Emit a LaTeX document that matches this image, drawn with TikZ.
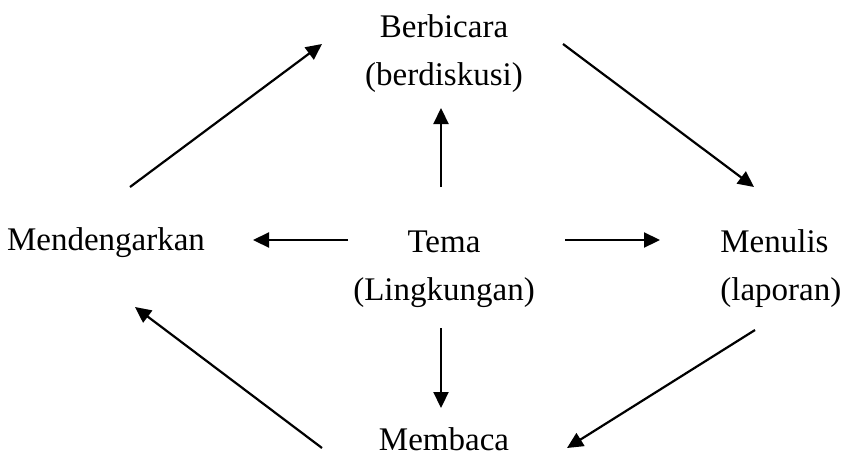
\documentclass[tikz,border=0pt]{standalone}
\usepackage{fontspec}
\setmainfont{Liberation Serif}
\usetikzlibrary{arrows.meta}

\begin{document}
\begin{tikzpicture}[
    x=0.5pt, y=-0.5pt,
    every node/.style={font=\fontsize{16.5}{24}\selectfont, inner sep=0pt},
    label/.style={anchor=base},
    arrow/.style={-{Triangle[length=8pt, width=7.5pt]}, line width=1.1pt},
]
\useasboundingbox (0,0) rectangle (845,461);

% Nodes (base = baseline of the last line)
\node[label, align=center] (bicara) at (444,85) {Berbicara\\(berdiskusi)};
\node[label] (dengar) at (106,250) {Mendengarkan};
\node[label, align=center] (tema) at (444,300) {Tema\\(Lingkungan)};
\node[label, anchor=base west, align=left] (tulis) at (720,300) {Menulis\\(laporan)};
\node[label] (baca) at (444,450) {Membaca};

% Cycle
\draw[arrow] ([shift={(24,-63)}]dengar.base) -- ([shift={(-122,-41)}]bicara.base);
\draw[arrow] ([shift={(119,-41)}]bicara.base) -- ([shift={(34,-113)}]tulis.base west);
\draw[arrow] ([shift={(35,30)}]tulis.base west) -- ([shift={(123,-2)}]baca.base);
\draw[arrow] ([shift={(-122,-2)}]baca.base) -- ([shift={(29,57)}]dengar.base);

% From the theme
\draw[arrow] ([shift={(-3,-113)}]tema.base) -- ([shift={(-3,23)}]bicara.base);
\draw[arrow] ([shift={(-96,-60)}]tema.base) -- ([shift={(147,-10)}]dengar.base);
\draw[arrow] ([shift={(121,-60)}]tema.base) -- ([shift={(-60,-60)}]tulis.base west);
\draw[arrow] ([shift={(-3,28)}]tema.base) -- ([shift={(-3,-42)}]baca.base);

\end{tikzpicture}
\end{document}
